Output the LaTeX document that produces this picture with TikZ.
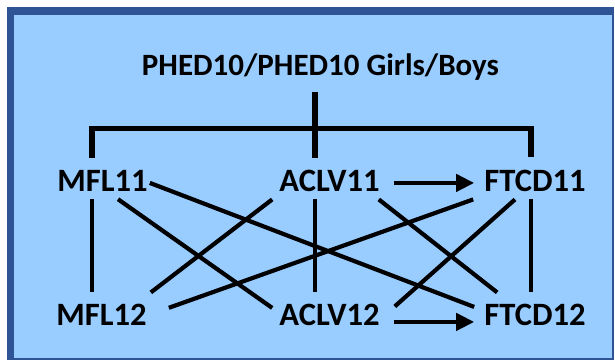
\documentclass[tikz,border=0pt]{standalone}
\usepackage{fontspec}
\setmainfont{Carlito}
\usetikzlibrary{calc,arrows.meta}
\definecolor{frameblue}{RGB}{47,84,150}
\definecolor{fillblue}{RGB}{153,204,255}
\tikzset{
  lbl/.style={inner sep=0pt, anchor=base, font=\fontsize{32.6}{34}\selectfont\bfseries, text=black},
  ttl/.style={inner sep=0pt, anchor=base, font=\fontsize{31}{33}\selectfont\bfseries, text=black},
  link/.style={line width=4.2pt, black},
  bar/.style={line width=5.5pt, black, line join=miter},
  arr/.style={line width=4.2pt, black, -{Triangle[length=18pt,width=17pt]}}
}
\begin{document}
\begin{tikzpicture}[x=1pt,y=-1pt]
\useasboundingbox (0,0) rectangle (615,360);
\fill[white] (0,0) rectangle (615,360);
\fill[frameblue] (7,7) rectangle (614,360);
\fill[fillblue] (14,15) rectangle (612,358);

\node[ttl] (t) at (320.5,75) {PHED10/PHED10 Girls/Boys};
\node[lbl] (m11) at (102.5,191) {MFL11};
\node[lbl] (a11) at (329.5,191) {ACLV11};
\node[lbl] (f11) at (535,191) {FTCD11};
\node[lbl] (m12) at (101.5,325) {MFL12};
\node[lbl] (a12) at (329.5,325) {ACLV12};
\node[lbl] (f12) at (535,325) {FTCD12};

% tree from title
\draw[bar] ($(t.base)+(-5.5,17)$) -- ($(a11.north)+(-14.5,-11)$);
\draw[bar] ($(m11.north)+(-10.5,-12)$) -- ++(0,-29) -| ($(f11.north)+(-4,-12)$);

% verticals
\draw[link] ($(m11.south)+(-10.5,8)$) -- ($(m12.north)+(-9.5,-11)$);
\draw[link] ($(a11.south)+(-14.5,8)$) -- ($(a12.north)+(-14.5,-11)$);
\draw[link] ($(f11.south)+(-4,8)$) -- ($(f12.north)+(-4,-11)$);

% diagonals
\draw[link] ($(m11.east)+(2,2.5)$) -- ($(f12.west)+(-10,-7.5)$);
\draw[link] ($(m11.south)+(15.5,8)$) -- ($(a12.west)+(-7,-6.5)$);
\draw[link] ($(m12.north east)+(4,-11)$) -- ($(a11.south west)+(-7,8)$);
\draw[link] ($(m12.east)+(22,-6.5)$) -- ($(f11.south west)+(-11,8)$);
\draw[link] ($(a11.south east)+(-1,8)$) -- ($(f12.north west)+(13,-11)$);
\draw[link] ($(a12.north east)+(15,3)$) -- ($(f11.south)+(-20,8)$);

% arrows
\draw[arr] ($(a11.east)+(14,2.5)$) -- ($(f11.west)+(-10,2.5)$);
\draw[arr] ($(a12.east)+(14,7.5)$) -- ($(f12.west)+(-10,7.5)$);
\end{tikzpicture}
\end{document}
